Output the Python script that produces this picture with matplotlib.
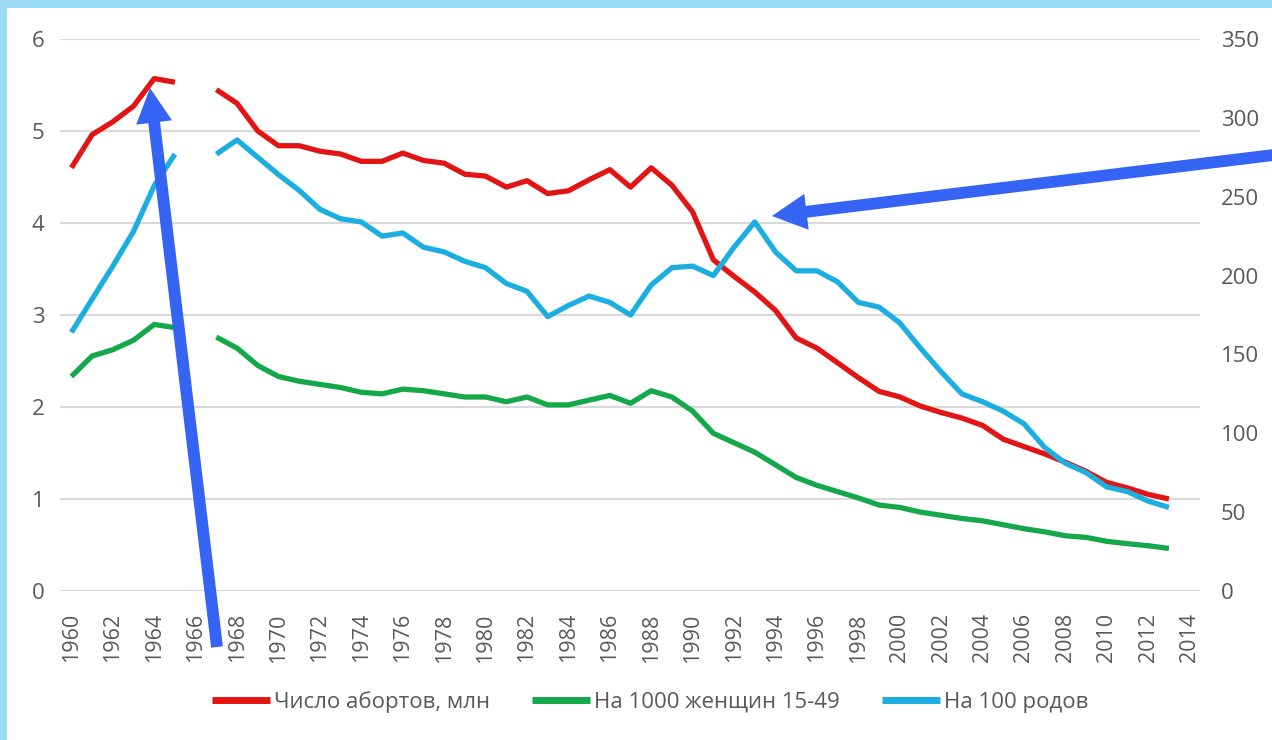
import numpy as np
import matplotlib.pyplot as plt

# -------------------------
# Data (1966 missing)
# -------------------------

years = list(range(1960, 2014))

abortions_mln = [
    4.60, 4.96, 5.10, 5.27, 5.57, 5.53, None, 5.45, 5.30, 5.00,
    4.84, 4.84, 4.78, 4.75, 4.67, 4.67, 4.76, 4.68, 4.65, 4.53,
    4.51, 4.39, 4.46, 4.32, 4.35, 4.47, 4.58, 4.39, 4.60, 4.41,
    4.12, 3.60, 3.42, 3.25, 3.05, 2.75, 2.64, 2.48, 2.32, 2.17,
    2.11, 2.01, 1.94, 1.88, 1.80, 1.65, 1.57, 1.49, 1.40, 1.30,
    1.18, 1.12, 1.05, 1.00,
]

per_1000_women = [
    136, 149, 153, 159, 169, 167, None, 161, 154, 143,
    136, 133, 131, 129, 126, 125, 128, 127, 125, 123,
    123, 120, 123, 118, 118, 121, 124, 119, 127, 123,
    114, 100, 94, 88, 80, 72, 67, 63, 59, 54.5,
    53, 50, 48, 46, 44.5, 42, 39.5, 37.5, 35, 34,
    31.5, 30, 28.7, 27,
]

per_100_births = [
    164, 185, 206, 228, 257, 277, None, 277, 286, 275,
    264, 254, 242, 236, 234, 225, 227, 218, 215, 209,
    205, 195, 190, 174, 181, 187, 183, 175, 194, 205,
    206, 200, 218, 234, 215, 203, 203, 196, 183, 180,
    170, 154, 139, 125, 120, 114, 106, 91, 81, 75,
    66, 63, 57, 53,
]

labels = ["Число абортов, млн", "На 1000 женщин 15-49", "На 100 родов"]
xticks = list(range(1960, 2015, 2))


def to_array(values):
    return np.array([np.nan if v is None else v for v in values], dtype=float)


# -------------------------
# Plotting
# -------------------------

plt.rcParams['font.family'] = ['Open Sans', 'DejaVu Sans']

text_color = '#595959'
red = '#E21414'
green = '#14A84A'
blue = '#1CAEE0'
arrow_color = '#3563F4'

fig = plt.figure(figsize=(12.72, 7.4), dpi=100)
fig.patch.set_facecolor('white')

# light blue frame on top and left
fig.patches.append(plt.Rectangle((0, 1 - 8 / 740), 1, 8 / 740, transform=fig.transFigure,
                                 facecolor='#9CDCF6', edgecolor='none', zorder=0))
fig.patches.append(plt.Rectangle((0, 0), 7 / 1272, 1, transform=fig.transFigure,
                                 facecolor='#9CDCF6', edgecolor='none', zorder=0))

ax = fig.add_axes([60 / 1272, 149 / 740, 1140 / 1272, 552 / 740])
ax2 = ax.twinx()

x = np.array(years)
l1, = ax.plot(x, to_array(abortions_mln), color=red, lw=3.8, solid_capstyle='butt')
l2, = ax2.plot(x, to_array(per_1000_women), color=green, lw=3.8, solid_capstyle='butt')
l3, = ax2.plot(x, to_array(per_100_births), color=blue, lw=3.8, solid_capstyle='butt')

ax.set_xlim(1959.45, 2014.5)
ax.set_ylim(0, 6)
ax2.set_ylim(0, 350)

ax.set_yticks(range(0, 7))
ax2.set_yticks(range(0, 351, 50))
ax.set_xticks(xticks)
ax.set_xticklabels([str(t) for t in xticks], rotation=90)

ax.yaxis.grid(True, color='#D9D9D9', lw=1.5)
ax.set_axisbelow(True)

for a in (ax, ax2):
    for s in a.spines.values():
        s.set_visible(False)
    a.tick_params(length=0, colors=text_color, labelsize=16)

ax.tick_params(axis='y', pad=11)
ax.tick_params(axis='x', pad=16, labelsize=15.5)
ax2.tick_params(axis='y', pad=15)

leg = fig.legend([l1, l2, l3], labels, loc='center', bbox_to_anchor=(650 / 1272, 38 / 740),
                 ncol=3, frameon=False, fontsize=16, handlelength=2.6, handletextpad=0.18,
                 columnspacing=1.9, labelcolor=text_color)
for h in leg.legend_handles:
    h.set_linewidth(5)

# blue annotation arrows
arrow_props = dict(arrowstyle='simple,head_length=2.5,head_width=2.6,tail_width=0.85',
                   mutation_scale=10, color=arrow_color, shrinkA=0, shrinkB=0, lw=0)
ax2.annotate('', xy=(150, 652), xytext=(217, 93), xycoords='figure pixels',
             textcoords='figure pixels', arrowprops=arrow_props, annotation_clip=False, zorder=10)
ax2.annotate('', xy=(772, 524), xytext=(1290, 587), xycoords='figure pixels',
             textcoords='figure pixels', arrowprops=arrow_props, annotation_clip=False, zorder=10)

plt.savefig("out.png", dpi=100)
